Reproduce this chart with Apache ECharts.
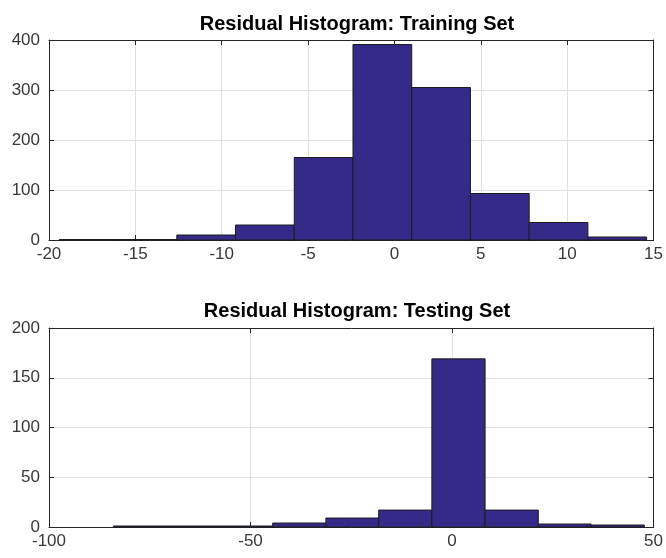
<!DOCTYPE html>
<html>
  <head>
    <meta charset="utf-8" />
    <title>Residual Histograms</title>
    <script src="https://cdn.jsdelivr.net/npm/echarts@6/dist/echarts.min.js"></script>
    <style>
      body { margin: 0; background: #fff; }
    </style>
  </head>
  <body>
    <div id="main" style="width: 666px; height: 558px;"></div>
    <script type="text/javascript">
      // bin edges and counts
      var trainEdges = [-19.4, -16.0, -12.6, -9.2, -5.8, -2.4, 1.0, 4.4, 7.8, 11.2, 14.6];
      var trainCounts = [1, 1, 10, 30, 165, 391, 305, 93, 35, 6];
      var testEdges = [-84, -70.8, -57.7, -44.5, -31.3, -18.2, -5.0, 8.2, 21.4, 34.5, 47.7];
      var testCounts = [1, 1, 1, 4, 9, 17, 169, 17, 3, 2];

      var myChart = echarts.init(document.getElementById('main'));

      var barColor = '#352A87';
      var axisColor = '#262626';
      var labelColor = '#383838';
      var fontFamily = '"Liberation Sans", Arial, sans-serif';

      function toBins(edges, counts) {
        return counts.map(function (c, i) {
          return [edges[i], edges[i + 1], c];
        });
      }

      function renderBar(params, api) {
        var p0 = api.coord([api.value(0), 0]);
        var p1 = api.coord([api.value(1), api.value(2)]);
        return {
          type: 'rect',
          shape: { x: p0[0], y: p1[1], width: p1[0] - p0[0], height: p0[1] - p1[1] },
          style: { fill: barColor, stroke: '#1c1c1c', lineWidth: 1 }
        };
      }

      function mainX(gridIndex, min, max, interval) {
        return {
          type: 'value', gridIndex: gridIndex, min: min, max: max, interval: interval,
          position: 'bottom',
          axisLine: { onZero: false, lineStyle: { color: axisColor, width: 1 } },
          axisTick: { inside: true, length: 5, lineStyle: { color: axisColor } },
          axisLabel: { color: labelColor, fontSize: 17, fontFamily: fontFamily, margin: 6 },
          splitLine: { show: true, lineStyle: { color: '#e0e0e0' } }
        };
      }
      function boxX(gridIndex, min, max, interval) {
        return {
          type: 'value', gridIndex: gridIndex, min: min, max: max, interval: interval,
          position: 'top',
          axisLine: { onZero: false, lineStyle: { color: axisColor, width: 1 } },
          axisTick: { inside: true, length: 5, lineStyle: { color: axisColor } },
          axisLabel: { show: false },
          splitLine: { show: false }
        };
      }
      function mainY(gridIndex, max, interval) {
        return {
          type: 'value', gridIndex: gridIndex, min: 0, max: max, interval: interval,
          position: 'left',
          axisLine: { show: true, onZero: false, lineStyle: { color: axisColor, width: 1 } },
          axisTick: { show: true, inside: true, length: 5, lineStyle: { color: axisColor } },
          axisLabel: { color: labelColor, fontSize: 17, fontFamily: fontFamily, margin: 9 },
          splitLine: { show: true, lineStyle: { color: '#e0e0e0' } }
        };
      }
      function boxY(gridIndex, max, interval) {
        return {
          type: 'value', gridIndex: gridIndex, min: 0, max: max, interval: interval,
          position: 'right',
          axisLine: { show: true, onZero: false, lineStyle: { color: axisColor, width: 1 } },
          axisTick: { show: true, inside: true, length: 5, lineStyle: { color: axisColor } },
          axisLabel: { show: false },
          splitLine: { show: false }
        };
      }

      var option = {
        animation: false,
        backgroundColor: '#fff',
        title: [
          {
            text: 'Residual Histogram: Training Set', left: 352, top: 9, textAlign: 'center',
            textStyle: { fontSize: 20, fontWeight: 'bold', color: '#000', fontFamily: fontFamily }
          },
          {
            text: 'Residual Histogram: Testing Set', left: 352, top: 296, textAlign: 'center',
            textStyle: { fontSize: 20, fontWeight: 'bold', color: '#000', fontFamily: fontFamily }
          }
        ],
        grid: [
          { left: 49, top: 40, width: 606, height: 200 },
          { left: 49, top: 328, width: 606, height: 199 }
        ],
        xAxis: [
          mainX(0, -20, 15, 5), boxX(0, -20, 15, 5),
          mainX(1, -100, 50, 50), boxX(1, -100, 50, 50)
        ],
        yAxis: [
          mainY(0, 400, 100), boxY(0, 400, 100),
          mainY(1, 200, 50), boxY(1, 200, 50)
        ],
        series: [
          {
            type: 'custom', xAxisIndex: 0, yAxisIndex: 0,
            renderItem: renderBar, encode: { x: [0, 1], y: 2 },
            data: toBins(trainEdges, trainCounts)
          },
          {
            type: 'custom', xAxisIndex: 2, yAxisIndex: 2,
            renderItem: renderBar, encode: { x: [0, 1], y: 2 },
            data: toBins(testEdges, testCounts)
          }
        ]
      };

      myChart.setOption(option);
    </script>
  </body>
</html>
